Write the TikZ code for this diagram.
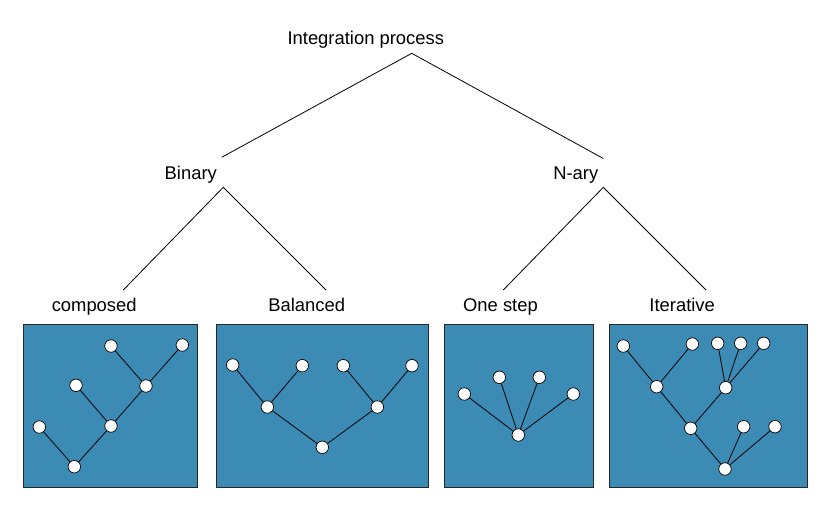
\documentclass[tikz,border=0pt]{standalone}
\usepackage{fontspec}
\setmainfont{Liberation Sans}
\definecolor{panelblue}{RGB}{60,139,180}
\begin{document}
\begin{tikzpicture}[x=1pt,y=-1pt,
  lbl/.style={anchor=base,inner sep=0pt,font=\fontsize{18.4}{22}\selectfont},
  panel/.style={draw=black!85,line width=0.9pt,fill=panelblue},
  vtx/.style={circle,draw=black,fill=white,line width=0.7pt,minimum size=12.5pt,inner sep=0pt},
  edge/.style={draw=black,line width=0.8pt},
  tline/.style={draw=black,line width=0.8pt}]
\useasboundingbox (0,0) rectangle (820,514);
% labels
\node[lbl] (ip) at (365.8,44) {Integration process};
\node[lbl] (bin) at (190.8,179.3) {Binary};
\node[lbl] (nary) at (575.8,179.3) {N-ary};
\node[lbl] (comp) at (94.2,311.7) {composed};
\node[lbl] (bal) at (306.7,311.7) {Balanced};
\node[lbl] (one) at (500.5,311.7) {One step};
\node[lbl] (iter) at (682.2,311.7) {Iterative};
% tree lines
\coordinate (t0) at (411.7,53.3);
\coordinate (t1) at (221.7,157.3);
\coordinate (t2) at (603.3,158.5);
\coordinate (b0) at (223.3,187.3);
\coordinate (b1) at (123.3,290);
\coordinate (b2) at (326,290);
\coordinate (n0) at (603.3,187.3);
\coordinate (n1) at (503.3,290);
\coordinate (n2) at (706,290);
\draw[tline] (t1) -- (t0) -- (t2);
\draw[tline] (b1) -- (b0) -- (b2);
\draw[tline] (n1) -- (n0) -- (n2);
% panels
\path[panel] (23.3,324) rectangle (197.7,487.3);
\path[panel] (216.7,324) rectangle (428.3,487.3);
\path[panel] (444,324) rectangle (593.3,487.3);
\path[panel] (609,324) rectangle (807.3,487.3);
% panel 1: composed
\node[vtx] (a1) at (111,346) {};
\node[vtx] (a2) at (182.3,345) {};
\node[vtx] (a3) at (76,385.3) {};
\node[vtx] (a4) at (146,386) {};
\node[vtx] (a5) at (39.3,427) {};
\node[vtx] (a6) at (111,426) {};
\node[vtx] (a7) at (74.3,466.7) {};
\path[edge] (a1) -- (a4) (a2) -- (a4) (a4) -- (a6) (a3) -- (a6) (a6) -- (a7) (a5) -- (a7);
% panel 2: balanced
\node[vtx] (c1) at (232.7,365) {};
\node[vtx] (c2) at (302.3,365.7) {};
\node[vtx] (c3) at (343.3,365.7) {};
\node[vtx] (c4) at (412,365.7) {};
\node[vtx] (c5) at (267.3,407) {};
\node[vtx] (c6) at (377.3,407) {};
\node[vtx] (c7) at (322.3,447.3) {};
\path[edge] (c1) -- (c5) (c2) -- (c5) (c3) -- (c6) (c4) -- (c6) (c5) -- (c7) (c6) -- (c7);
% panel 3: one step
\node[vtx] (d1) at (464.3,394) {};
\node[vtx] (d2) at (499.3,377.3) {};
\node[vtx] (d3) at (539.3,377.3) {};
\node[vtx] (d4) at (573.3,394) {};
\node[vtx] (d5) at (518.3,435) {};
\path[edge] (d1) -- (d5) (d2) -- (d5) (d3) -- (d5) (d4) -- (d5);
% panel 4: iterative
\node[vtx] (e1) at (623.3,346) {};
\node[vtx] (e2) at (692.3,344) {};
\node[vtx] (e3) at (717.7,343.3) {};
\node[vtx] (e4) at (740.7,343.3) {};
\node[vtx] (e5) at (763.7,343.3) {};
\node[vtx] (e6) at (656.7,386.7) {};
\node[vtx] (e7) at (725.7,387.7) {};
\node[vtx] (e8) at (690.7,428.3) {};
\node[vtx] (e9) at (743.7,426.7) {};
\node[vtx] (e10) at (775,426.7) {};
\node[vtx] (e11) at (725,469) {};
\path[edge] (e1) -- (e6) (e2) -- (e6) (e3) -- (e7) (e4) -- (e7) (e5) -- (e7)
  (e6) -- (e8) (e7) -- (e8) (e8) -- (e11) (e9) -- (e11) (e10) -- (e11);
\end{tikzpicture}
\end{document}
